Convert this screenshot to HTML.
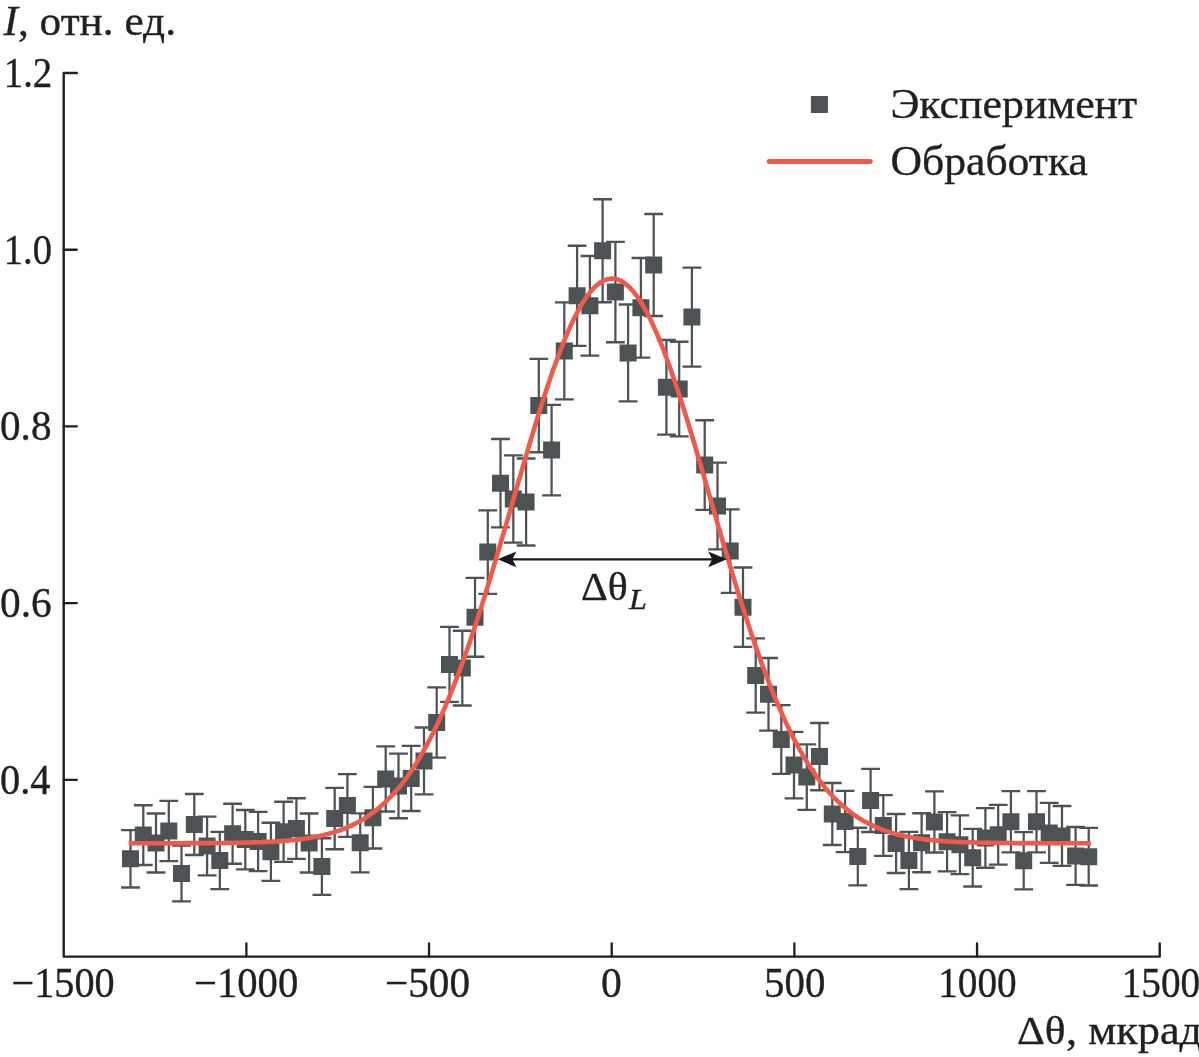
<!DOCTYPE html>
<html lang="ru"><head><meta charset="utf-8"><title>Chart</title>
<style>html,body{margin:0;padding:0;background:#fff}svg{display:block}</style></head>
<body>
<svg width="1199" height="1057" viewBox="0 0 1199 1057">
<rect width="1199" height="1057" fill="#fff"/>
<path d="M130.5 830.1V887.5M143.3 805.2V865.0M156.0 813.5V872.5M168.8 800.9V861.1M181.5 845.6V901.4M194.3 794.0V855.0M207.1 816.6V875.4M219.8 831.9V889.1M232.6 803.7V863.7M245.3 810.0V869.3M258.1 811.9V871.1M270.9 822.7V880.9M283.6 801.7V861.9M296.4 798.2V858.8M309.1 813.5V872.5M321.9 838.2V894.8M334.7 787.8V849.2M347.4 774.1V836.9M360.2 813.3V872.3M372.9 786.9V848.5M385.7 746.3V811.5M398.5 753.6V818.2M411.2 745.8V811.0M424.0 727.5V794.3M436.7 687.4V757.6M449.5 626.9V701.9M462.3 630.7V705.5M475.0 577.9V656.7M487.8 510.3V593.9M500.5 439.0V527.4M513.3 455.4V542.6M526.1 458.5V545.5M538.8 358.8V452.2M551.6 404.8V495.4M564.3 302.4V399.4M577.1 245.7V345.9M589.9 256.0V355.6M602.6 199.2V302.2M615.4 241.8V342.2M628.1 304.5V401.3M640.9 258.0V357.6M653.7 214.0V316.0M666.4 340.0V434.6M679.2 341.7V436.3M691.9 267.6V366.6M704.7 420.2V509.8M717.5 462.6V549.4M730.2 509.3V592.9M743.0 567.5V646.9M755.7 638.4V712.6M768.5 658.0V730.6M781.3 705.1V773.9M794.0 731.8V798.4M806.8 744.4V809.8M819.5 723.0V790.2M832.3 783.0V845.0M845.1 790.9V852.1M857.8 827.7V885.3M870.6 768.8V832.0M883.3 795.1V855.9M896.1 814.0V873.0M908.9 831.9V889.1M921.6 813.2V872.2M934.4 791.3V852.5M947.1 812.1V871.3M959.9 815.3V874.1M972.7 828.9V886.5M985.4 808.1V867.7M998.2 804.8V864.6M1010.9 791.1V852.3M1023.7 832.1V889.3M1036.5 791.1V852.3M1049.2 802.9V862.9M1062.0 806.0V865.8M1075.6 827.0V884.8M1088.7 827.9V885.5" stroke="#4d5355" stroke-width="2.25" fill="none"/>
<path d="M121.1 830.1h18.8M121.1 887.5h18.8M133.9 805.2h18.8M133.9 865.0h18.8M146.6 813.5h18.8M146.6 872.5h18.8M159.4 800.9h18.8M159.4 861.1h18.8M172.1 845.6h18.8M172.1 901.4h18.8M184.9 794.0h18.8M184.9 855.0h18.8M197.7 816.6h18.8M197.7 875.4h18.8M210.4 831.9h18.8M210.4 889.1h18.8M223.2 803.7h18.8M223.2 863.7h18.8M235.9 810.0h18.8M235.9 869.3h18.8M248.7 811.9h18.8M248.7 871.1h18.8M261.5 822.7h18.8M261.5 880.9h18.8M274.2 801.7h18.8M274.2 861.9h18.8M287.0 798.2h18.8M287.0 858.8h18.8M299.7 813.5h18.8M299.7 872.5h18.8M312.5 838.2h18.8M312.5 894.8h18.8M325.3 787.8h18.8M325.3 849.2h18.8M338.0 774.1h18.8M338.0 836.9h18.8M350.8 813.3h18.8M350.8 872.3h18.8M363.5 786.9h18.8M363.5 848.5h18.8M376.3 746.3h18.8M376.3 811.5h18.8M389.1 753.6h18.8M389.1 818.2h18.8M401.8 745.8h18.8M401.8 811.0h18.8M414.6 727.5h18.8M414.6 794.3h18.8M427.3 687.4h18.8M427.3 757.6h18.8M440.1 626.9h18.8M440.1 701.9h18.8M452.9 630.7h18.8M452.9 705.5h18.8M465.6 577.9h18.8M465.6 656.7h18.8M478.4 510.3h18.8M478.4 593.9h18.8M491.1 439.0h18.8M491.1 527.4h18.8M503.9 455.4h18.8M503.9 542.6h18.8M516.7 458.5h18.8M516.7 545.5h18.8M529.4 358.8h18.8M529.4 452.2h18.8M542.2 404.8h18.8M542.2 495.4h18.8M554.9 302.4h18.8M554.9 399.4h18.8M567.7 245.7h18.8M567.7 345.9h18.8M580.5 256.0h18.8M580.5 355.6h18.8M593.2 199.2h18.8M593.2 302.2h18.8M606.0 241.8h18.8M606.0 342.2h18.8M618.7 304.5h18.8M618.7 401.3h18.8M631.5 258.0h18.8M631.5 357.6h18.8M644.3 214.0h18.8M644.3 316.0h18.8M657.0 340.0h18.8M657.0 434.6h18.8M669.8 341.7h18.8M669.8 436.3h18.8M682.5 267.6h18.8M682.5 366.6h18.8M695.3 420.2h18.8M695.3 509.8h18.8M708.1 462.6h18.8M708.1 549.4h18.8M720.8 509.3h18.8M720.8 592.9h18.8M733.6 567.5h18.8M733.6 646.9h18.8M746.3 638.4h18.8M746.3 712.6h18.8M759.1 658.0h18.8M759.1 730.6h18.8M771.9 705.1h18.8M771.9 773.9h18.8M784.6 731.8h18.8M784.6 798.4h18.8M797.4 744.4h18.8M797.4 809.8h18.8M810.1 723.0h18.8M810.1 790.2h18.8M822.9 783.0h18.8M822.9 845.0h18.8M835.7 790.9h18.8M835.7 852.1h18.8M848.4 827.7h18.8M848.4 885.3h18.8M861.2 768.8h18.8M861.2 832.0h18.8M873.9 795.1h18.8M873.9 855.9h18.8M886.7 814.0h18.8M886.7 873.0h18.8M899.5 831.9h18.8M899.5 889.1h18.8M912.2 813.2h18.8M912.2 872.2h18.8M925.0 791.3h18.8M925.0 852.5h18.8M937.7 812.1h18.8M937.7 871.3h18.8M950.5 815.3h18.8M950.5 874.1h18.8M963.3 828.9h18.8M963.3 886.5h18.8M976.0 808.1h18.8M976.0 867.7h18.8M988.8 804.8h18.8M988.8 864.6h18.8M1001.5 791.1h18.8M1001.5 852.3h18.8M1014.3 832.1h18.8M1014.3 889.3h18.8M1027.1 791.1h18.8M1027.1 852.3h18.8M1039.8 802.9h18.8M1039.8 862.9h18.8M1052.6 806.0h18.8M1052.6 865.8h18.8M1066.2 827.0h18.8M1066.2 884.8h18.8M1079.3 827.9h18.8M1079.3 885.5h18.8" stroke="#4d5355" stroke-width="2.35" fill="none"/>
<path d="M122.0 850.3h17v17h-17zM134.8 826.6h17v17h-17zM147.5 834.5h17v17h-17zM160.3 822.5h17v17h-17zM173.0 865.0h17v17h-17zM185.8 816.0h17v17h-17zM198.6 837.5h17v17h-17zM211.3 852.0h17v17h-17zM224.1 825.2h17v17h-17zM236.8 831.1h17v17h-17zM249.6 833.0h17v17h-17zM262.4 843.3h17v17h-17zM275.1 823.3h17v17h-17zM287.9 820.0h17v17h-17zM300.6 834.5h17v17h-17zM313.4 858.0h17v17h-17zM326.2 810.0h17v17h-17zM338.9 797.0h17v17h-17zM351.7 834.3h17v17h-17zM364.4 809.2h17v17h-17zM377.2 770.4h17v17h-17zM390.0 777.4h17v17h-17zM402.7 769.9h17v17h-17zM415.5 752.4h17v17h-17zM428.2 714.0h17v17h-17zM441.0 655.9h17v17h-17zM453.8 659.6h17v17h-17zM466.5 608.8h17v17h-17zM479.3 543.6h17v17h-17zM492.0 474.7h17v17h-17zM504.8 490.5h17v17h-17zM517.6 493.5h17v17h-17zM530.3 397.0h17v17h-17zM543.1 441.6h17v17h-17zM555.8 342.4h17v17h-17zM568.6 287.3h17v17h-17zM581.4 297.3h17v17h-17zM594.1 242.2h17v17h-17zM606.9 283.5h17v17h-17zM619.6 344.4h17v17h-17zM632.4 299.3h17v17h-17zM645.2 256.5h17v17h-17zM657.9 378.8h17v17h-17zM670.7 380.5h17v17h-17zM683.4 308.6h17v17h-17zM696.2 456.5h17v17h-17zM709.0 497.5h17v17h-17zM721.7 542.6h17v17h-17zM734.5 598.7h17v17h-17zM747.2 667.0h17v17h-17zM760.0 685.8h17v17h-17zM772.8 731.0h17v17h-17zM785.5 756.6h17v17h-17zM798.3 768.6h17v17h-17zM811.0 748.1h17v17h-17zM823.8 805.5h17v17h-17zM836.6 813.0h17v17h-17zM849.3 848.0h17v17h-17zM862.1 791.9h17v17h-17zM874.8 817.0h17v17h-17zM887.6 835.0h17v17h-17zM900.4 852.0h17v17h-17zM913.1 834.2h17v17h-17zM925.9 813.4h17v17h-17zM938.6 833.2h17v17h-17zM951.4 836.2h17v17h-17zM964.2 849.2h17v17h-17zM976.9 829.4h17v17h-17zM989.7 826.2h17v17h-17zM1002.4 813.2h17v17h-17zM1015.2 852.2h17v17h-17zM1028.0 813.2h17v17h-17zM1040.7 824.4h17v17h-17zM1053.5 827.4h17v17h-17zM1067.1 847.4h17v17h-17zM1080.2 848.2h17v17h-17z" fill="#4d5355"/>
<path d="M128.8 843.2 L130.8 843.2 L132.8 843.2 L134.8 843.2 L136.8 843.2 L138.8 843.2 L140.8 843.2 L142.8 843.2 L144.8 843.2 L146.8 843.2 L148.8 843.2 L150.8 843.2 L152.8 843.2 L154.8 843.2 L156.8 843.2 L158.8 843.2 L160.8 843.2 L162.8 843.2 L164.8 843.2 L166.8 843.2 L168.8 843.2 L170.8 843.2 L172.8 843.2 L174.8 843.2 L176.8 843.2 L178.8 843.2 L180.8 843.2 L182.8 843.2 L184.8 843.1 L186.8 843.1 L188.8 843.1 L190.8 843.1 L192.8 843.1 L194.8 843.1 L196.8 843.1 L198.8 843.1 L200.8 843.1 L202.8 843.1 L204.8 843.1 L206.8 843.1 L208.8 843.1 L210.8 843.0 L212.8 843.0 L214.8 843.0 L216.8 843.0 L218.8 843.0 L220.8 843.0 L222.8 843.0 L224.8 842.9 L226.8 842.9 L228.8 842.9 L230.8 842.9 L232.8 842.8 L234.8 842.8 L236.8 842.8 L238.8 842.7 L240.8 842.7 L242.8 842.7 L244.8 842.6 L246.8 842.6 L248.8 842.5 L250.8 842.5 L252.8 842.4 L254.8 842.4 L256.8 842.3 L258.8 842.2 L260.8 842.2 L262.8 842.1 L264.8 842.0 L266.8 841.9 L268.8 841.8 L270.8 841.7 L272.8 841.6 L274.8 841.5 L276.8 841.4 L278.8 841.2 L280.8 841.1 L282.8 841.0 L284.8 840.8 L286.8 840.6 L288.8 840.5 L290.8 840.3 L292.8 840.1 L294.8 839.9 L296.8 839.6 L298.8 839.4 L300.8 839.2 L302.8 838.9 L304.8 838.6 L306.8 838.3 L308.8 838.0 L310.8 837.7 L312.8 837.3 L314.8 837.0 L316.8 836.6 L318.8 836.2 L320.8 835.7 L322.8 835.3 L324.8 834.8 L326.8 834.3 L328.8 833.8 L330.8 833.2 L332.8 832.6 L334.8 832.0 L336.8 831.3 L338.8 830.7 L340.8 830.0 L342.8 829.2 L344.8 828.4 L346.8 827.6 L348.8 826.7 L350.8 825.8 L352.8 824.9 L354.8 823.9 L356.8 822.8 L358.8 821.8 L360.8 820.6 L362.8 819.4 L364.8 818.2 L366.8 816.9 L368.8 815.6 L370.8 814.2 L372.8 812.7 L374.8 811.2 L376.8 809.6 L378.8 808.0 L380.8 806.3 L382.8 804.5 L384.8 802.6 L386.8 800.7 L388.8 798.7 L390.8 796.7 L392.8 794.5 L394.8 792.3 L396.8 790.0 L398.8 787.7 L400.8 785.2 L402.8 782.7 L404.8 780.0 L406.8 777.3 L408.8 774.5 L410.8 771.6 L412.8 768.6 L414.8 765.5 L416.8 762.4 L418.8 759.1 L420.8 755.7 L422.8 752.3 L424.8 748.7 L426.8 745.1 L428.8 741.3 L430.8 737.4 L432.8 733.5 L434.8 729.4 L436.8 725.3 L438.8 721.0 L440.8 716.6 L442.8 712.1 L444.8 707.6 L446.8 702.9 L448.8 698.1 L450.8 693.2 L452.8 688.2 L454.8 683.2 L456.8 678.0 L458.8 672.7 L460.8 667.3 L462.8 661.8 L464.8 656.3 L466.8 650.6 L468.8 644.9 L470.8 639.0 L472.8 633.1 L474.8 627.1 L476.8 621.0 L478.8 614.8 L480.8 608.6 L482.8 602.3 L484.8 595.9 L486.8 589.4 L488.8 582.9 L490.8 576.3 L492.8 569.7 L494.8 563.0 L496.8 556.3 L498.8 549.5 L500.8 542.7 L502.8 535.9 L504.8 529.1 L506.8 522.2 L508.8 515.3 L510.8 508.4 L512.8 501.4 L514.8 494.5 L516.8 487.6 L518.8 480.7 L520.8 473.8 L522.8 467.0 L524.8 460.1 L526.8 453.3 L528.8 446.6 L530.8 439.9 L532.8 433.2 L534.8 426.6 L536.8 420.1 L538.8 413.6 L540.8 407.3 L542.8 401.0 L544.8 394.8 L546.8 388.7 L548.8 382.7 L550.8 376.8 L552.8 371.0 L554.8 365.4 L556.8 359.9 L558.8 354.5 L560.8 349.3 L562.8 344.2 L564.8 339.3 L566.8 334.5 L568.8 329.9 L570.8 325.4 L572.8 321.2 L574.8 317.1 L576.8 313.2 L578.8 309.5 L580.8 306.0 L582.8 302.6 L584.8 299.5 L586.8 296.6 L588.8 293.9 L590.8 291.4 L592.8 289.1 L594.8 287.1 L596.8 285.2 L598.8 283.6 L600.8 282.2 L602.8 281.0 L604.8 280.1 L606.8 279.4 L608.8 278.9 L610.8 278.6 L612.8 278.6 L614.8 278.8 L616.8 279.3 L618.8 279.9 L620.8 280.8 L622.8 281.9 L624.8 283.3 L626.8 284.9 L628.8 286.7 L630.8 288.7 L632.8 290.9 L634.8 293.4 L636.8 296.0 L638.8 298.9 L640.8 302.0 L642.8 305.3 L644.8 308.8 L646.8 312.4 L648.8 316.3 L650.8 320.3 L652.8 324.6 L654.8 329.0 L656.8 333.5 L658.8 338.3 L660.8 343.2 L662.8 348.2 L664.8 353.4 L666.8 358.8 L668.8 364.3 L670.8 369.9 L672.8 375.6 L674.8 381.5 L676.8 387.5 L678.8 393.5 L680.8 399.7 L682.8 406.0 L684.8 412.4 L686.8 418.8 L688.8 425.3 L690.8 431.9 L692.8 438.5 L694.8 445.2 L696.8 452.0 L698.8 458.8 L700.8 465.6 L702.8 472.5 L704.8 479.3 L706.8 486.2 L708.8 493.1 L710.8 500.1 L712.8 507.0 L714.8 513.9 L716.8 520.8 L718.8 527.7 L720.8 534.5 L722.8 541.4 L724.8 548.2 L726.8 555.0 L728.8 561.7 L730.8 568.4 L732.8 575.0 L734.8 581.6 L736.8 588.1 L738.8 594.6 L740.8 601.0 L742.8 607.3 L744.8 613.6 L746.8 619.8 L748.8 625.9 L750.8 631.9 L752.8 637.8 L754.8 643.7 L756.8 649.5 L758.8 655.1 L760.8 660.7 L762.8 666.2 L764.8 671.6 L766.8 676.9 L768.8 682.1 L770.8 687.2 L772.8 692.2 L774.8 697.1 L776.8 701.9 L778.8 706.6 L780.8 711.2 L782.8 715.7 L784.8 720.1 L786.8 724.4 L788.8 728.6 L790.8 732.7 L792.8 736.7 L794.8 740.5 L796.8 744.3 L798.8 748.0 L800.8 751.6 L802.8 755.1 L804.8 758.4 L806.8 761.7 L808.8 764.9 L810.8 768.0 L812.8 771.0 L814.8 773.9 L816.8 776.8 L818.8 779.5 L820.8 782.1 L822.8 784.7 L824.8 787.2 L826.8 789.6 L828.8 791.9 L830.8 794.1 L832.8 796.3 L834.8 798.3 L836.8 800.3 L838.8 802.3 L840.8 804.1 L842.8 805.9 L844.8 807.6 L846.8 809.3 L848.8 810.9 L850.8 812.4 L852.8 813.9 L854.8 815.3 L856.8 816.7 L858.8 818.0 L860.8 819.2 L862.8 820.4 L864.8 821.5 L866.8 822.6 L868.8 823.7 L870.8 824.7 L872.8 825.6 L874.8 826.5 L876.8 827.4 L878.8 828.2 L880.8 829.0 L882.8 829.8 L884.8 830.5 L886.8 831.2 L888.8 831.9 L890.8 832.5 L892.8 833.1 L894.8 833.7 L896.8 834.2 L898.8 834.7 L900.8 835.2 L902.8 835.6 L904.8 836.1 L906.8 836.5 L908.8 836.9 L910.8 837.3 L912.8 837.6 L914.8 837.9 L916.8 838.3 L918.8 838.6 L920.8 838.8 L922.8 839.1 L924.8 839.4 L926.8 839.6 L928.8 839.8 L930.8 840.0 L932.8 840.2 L934.8 840.4 L936.8 840.6 L938.8 840.8 L940.8 840.9 L942.8 841.1 L944.8 841.2 L946.8 841.3 L948.8 841.5 L950.8 841.6 L952.8 841.7 L954.8 841.8 L956.8 841.9 L958.8 842.0 L960.8 842.1 L962.8 842.1 L964.8 842.2 L966.8 842.3 L968.8 842.3 L970.8 842.4 L972.8 842.5 L974.8 842.5 L976.8 842.6 L978.8 842.6 L980.8 842.7 L982.8 842.7 L984.8 842.7 L986.8 842.8 L988.8 842.8 L990.8 842.8 L992.8 842.9 L994.8 842.9 L996.8 842.9 L998.8 842.9 L1000.8 842.9 L1002.8 843.0 L1004.8 843.0 L1006.8 843.0 L1008.8 843.0 L1010.8 843.0 L1012.8 843.0 L1014.8 843.1 L1016.8 843.1 L1018.8 843.1 L1020.8 843.1 L1022.8 843.1 L1024.8 843.1 L1026.8 843.1 L1028.8 843.1 L1030.8 843.1 L1032.8 843.1 L1034.8 843.1 L1036.8 843.1 L1038.8 843.1 L1040.8 843.2 L1042.8 843.2 L1044.8 843.2 L1046.8 843.2 L1048.8 843.2 L1050.8 843.2 L1052.8 843.2 L1054.8 843.2 L1056.8 843.2 L1058.8 843.2 L1060.8 843.2 L1062.8 843.2 L1064.8 843.2 L1066.8 843.2 L1068.8 843.2 L1070.8 843.2 L1072.8 843.2 L1074.8 843.2 L1076.8 843.2 L1078.8 843.2 L1080.8 843.2 L1082.8 843.2 L1084.8 843.2 L1086.8 843.2 L1088.8 843.2 L1090.8 843.2" stroke="#ee5a4b" stroke-width="4.6" fill="none" stroke-linejoin="round"/>
<path d="M76.80 73.05H63.7V956.6H1159.72V943.40" stroke="#231f20" stroke-width="2.4" fill="none" stroke-linejoin="round" stroke-linecap="round"/>
<path d="M63.7 249.76h13.1M63.7 426.47h13.1M63.7 603.18h13.1M63.7 779.89h13.1M246.37 956.6v-13.2M429.04 956.6v-13.2M611.71 956.6v-13.2M794.38 956.6v-13.2M977.05 956.6v-13.2" stroke="#231f20" stroke-width="2.3" fill="none" stroke-linecap="round"/>
<path d="M505 559.3H720" stroke="#1a1718" stroke-width="2.2" fill="none"/>
<path d="M497.8 559.3L516.4 551.4L512.4 559.3L516.4 567.1999999999999ZM726.8 559.3L708.1999999999999 551.4L712.1999999999999 559.3L708.1999999999999 567.1999999999999Z" fill="#1a1718"/>
<rect x="810.9" y="96" width="17" height="17" fill="#4d5355"/>
<path d="M769.2 161.5H870.3" stroke="#ee5a4b" stroke-width="4.9" stroke-linecap="round" fill="none"/>
<g style="font-family:'Liberation Serif','Times New Roman',serif;fill:#231f20;stroke:#231f20;stroke-width:0.35">
<text transform="translate(3.51 35.00) scale(1.0316 1)" font-size="42"><tspan font-style="italic">I</tspan>, отн. ед.</text>
<text transform="translate(3.73 86.95) scale(0.9255 1)" font-size="42">1.2</text>
<text transform="translate(3.77 263.66) scale(0.9176 1)" font-size="42">1.0</text>
<text transform="translate(0.02 440.37) scale(0.9802 1)" font-size="42">0.8</text>
<text transform="translate(0.02 617.08) scale(0.9845 1)" font-size="42">0.6</text>
<text transform="translate(0.04 793.79) scale(0.9616 1)" font-size="42">0.4</text>
<text transform="translate(11.56 997.00) scale(0.9581 1)" font-size="42">−1500</text>
<text transform="translate(194.04 997.00) scale(0.9677 1)" font-size="42">−1000</text>
<text transform="translate(385.02 997.00) scale(0.9810 1)" font-size="42">−500</text>
<text transform="translate(601.00 997.00) scale(0.9905 1)" font-size="42">0</text>
<text transform="translate(764.05 997.00) scale(0.9734 1)" font-size="42">500</text>
<text transform="translate(938.22 997.00) scale(0.9344 1)" font-size="42">1000</text>
<text transform="translate(1121.67 997.00) scale(0.9351 1)" font-size="42">1500</text>
<text transform="translate(1016.92 1043.70) scale(1.0841 1)" font-size="40">Δθ</text>
<text transform="translate(1065.95 1043.70) scale(1.0563 1)" font-size="42">, мкрад</text>
<text transform="translate(890.40 117.90) scale(1.0445 1)" font-size="42">Эксперимент</text>
<text transform="translate(890.46 175.20) scale(1.0392 1)" font-size="42">Обработка</text>
<text transform="translate(580.95 599.60) scale(1.0425 1)" font-size="40">Δθ</text>
<text transform="translate(629.02 608.70) scale(1.0762 1)" font-size="30"><tspan font-style="italic">L</tspan></text>
</g>
</svg>
</body></html>
